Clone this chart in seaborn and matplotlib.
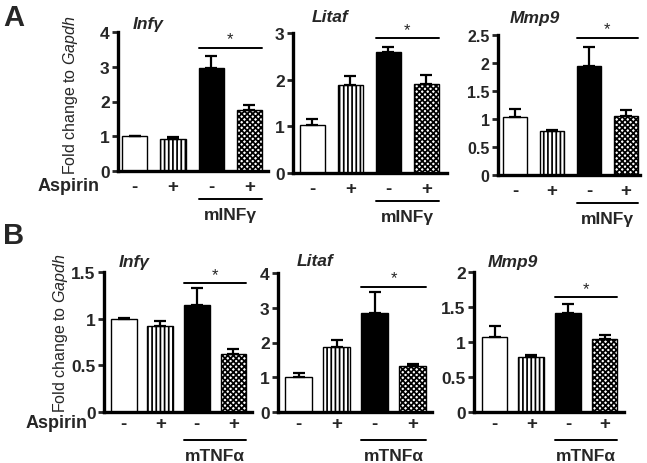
import matplotlib
matplotlib.use("Agg")
import matplotlib.pyplot as plt
import matplotlib.transforms as mtransforms
import pandas as pd
import seaborn as sns

# ---- data ----
conditions = ["ctrl", "aspirin", "stim", "stim_aspirin"]
aspirin_ticks = ["-", "+", "-", "+"]

a_infg_mean = [1.0, 0.92, 2.97, 1.75]
a_infg_err = [0.02, 0.05, 0.35, 0.15]
a_litaf_mean = [1.03, 1.88, 2.6, 1.9]
a_litaf_err = [0.12, 0.2, 0.1, 0.2]
a_mmp9_mean = [1.03, 0.79, 1.95, 1.06]
a_mmp9_err = [0.14, 0.02, 0.34, 0.1]

b_infg_mean = [1.0, 0.92, 1.15, 0.62]
b_infg_err = [0.01, 0.06, 0.18, 0.05]
b_litaf_mean = [1.0, 1.88, 2.85, 1.32]
b_litaf_err = [0.12, 0.2, 0.6, 0.07]
b_mmp9_mean = [1.07, 0.78, 1.42, 1.04]
b_mmp9_err = [0.16, 0.03, 0.13, 0.06]

a_sig = [3.55, 2.89, 2.45]
b_sig = [1.38, 3.6, 1.64]

a_yticks = [[0, 1, 2, 3, 4], [0, 1, 2, 3], [0, 0.5, 1, 1.5, 2, 2.5]]
b_yticks = [[0, 0.5, 1, 1.5], [0, 1, 2, 3, 4], [0, 0.5, 1, 1.5, 2]]

genes = ["Infγ", "Litaf", "Mmp9"]

W, H = 647, 464
fills = ["white", "white", "black", "white"]
hatches = ["", "||||", "", "xxxxxx"]

sns.set_theme(style="white")
plt.rcParams["font.family"] = ["Liberation Sans", "DejaVu Sans"]
plt.rcParams["mathtext.fontset"] = "custom"
plt.rcParams["mathtext.rm"] = "Liberation Sans"
plt.rcParams["mathtext.it"] = "Liberation Sans:italic"
plt.rcParams["hatch.linewidth"] = 1.25


def px_axes(fig, left, top, right, bottom):
    return fig.add_axes([left / W, 1 - bottom / H, (right - left) / W, (bottom - top) / H])


def draw_panel(ax, means, errs, yticks, sig_y, xlim, width, tick_size,
               tick_pad, treat):
    df = pd.DataFrame({"cond": conditions, "val": means})
    sns.barplot(data=df, x="cond", y="val", hue="cond", order=conditions,
                palette=fills, legend=False, width=width, errorbar=None,
                edgecolor="black", linewidth=1.0, ax=ax)
    for patch, h in zip(ax.patches, hatches):
        patch.set_hatch(h)
        patch.set_edgecolor("black")
    ax.errorbar(range(4), means, yerr=[[0] * 4, errs], fmt="none",
                ecolor="black", elinewidth=1.6, capsize=4.5, capthick=1.6,
                zorder=1)

    ax.set_xlim(*xlim)
    ax.set_ylim(0, yticks[-1])
    ax.set_yticks(yticks)
    ax.set_yticklabels([f"{t:g}" for t in yticks], fontsize=tick_size,
                       fontweight="bold")
    ax.set_xticks(range(4))
    ax.set_xticklabels(aspirin_ticks, fontsize=13.5, fontweight="bold")
    ax.tick_params(axis="x", length=0, pad=tick_pad)
    ax.tick_params(axis="y", length=4, width=2, direction="out", pad=2,
                   left=True)
    ax.set_xlabel("")
    ax.set_ylabel("")
    sns.despine(ax=ax)
    for s in ["left", "bottom"]:
        ax.spines[s].set_linewidth(2.4)
        ax.spines[s].set_color("black")
    ax.set_facecolor("white")

    x0, x1 = 2 - width / 2, 3 + width / 2
    # significance bar
    ax.plot([x0, x1], [sig_y, sig_y], color="black", lw=1.4, clip_on=False)
    ax.annotate("*", ((x0 + x1) / 2, sig_y), xytext=(0, 1),
                textcoords="offset points", ha="center", va="bottom",
                fontsize=12)
    # treatment group line under the last two bars
    trans = mtransforms.blended_transform_factory(ax.transData, ax.transAxes)
    ax.plot([x0, x1], [-0.2, -0.2], color="black", lw=1.4, transform=trans,
            clip_on=False)
    ax.text((x0 + x1) / 2, -0.31, treat, transform=trans, ha="center",
            va="center", fontsize=12.5, fontweight="bold")


fig = plt.figure(figsize=(W / 100, H / 100), dpi=100)
fig.patch.set_facecolor("white")

a_boxes = [(118, 33, 268, 172), (293, 34, 447, 174), (498, 36, 640, 176)]
b_boxes = [(104, 273, 252, 413), (278, 274, 432, 413), (474, 273, 624, 413)]
a_xlims = [(-0.44, 3.49), (-0.51, 3.54), (-0.46, 3.38)]
b_xlims = [(-0.54, 3.51), (-0.54, 3.51), (-0.56, 3.53)]
a_title_px = [(148, 24), (330, 18), (535, 19)]
b_title_px = [(134, 262), (315, 262), (513, 262)]

a_means = [a_infg_mean, a_litaf_mean, a_mmp9_mean]
a_errs = [a_infg_err, a_litaf_err, a_mmp9_err]
b_means = [b_infg_mean, b_litaf_mean, b_mmp9_mean]
b_errs = [b_infg_err, b_litaf_err, b_mmp9_err]

for i in range(3):
    ax = px_axes(fig, *a_boxes[i])
    draw_panel(ax, a_means[i], a_errs[i], a_yticks[i], a_sig[i],
               a_xlims[i], 0.66, 11.5 if i == 2 else 12.5, 5, "mINFγ")
    tx, ty = a_title_px[i]
    fig.text(tx / W, 1 - ty / H, genes[i], ha="center", va="center",
             fontsize=12.5, fontweight="bold", style="italic")

for i in range(3):
    ax = px_axes(fig, *b_boxes[i])
    draw_panel(ax, b_means[i], b_errs[i], b_yticks[i], b_sig[i],
               b_xlims[i], 0.7, 12.5, 2, "mTNFα")
    tx, ty = b_title_px[i]
    fig.text(tx / W, 1 - ty / H, genes[i], ha="center", va="center",
             fontsize=12.5, fontweight="bold", style="italic")

ylab = "Fold change to $\\mathit{Gapdh}$"
fig.text(70 / W, 1 - 95 / H, ylab, rotation=90, ha="center", va="center",
         fontsize=11.5)
fig.text(60 / W, 1 - 333 / H, ylab, rotation=90, ha="center", va="center",
         fontsize=11.5)

fig.text(100 / W, 1 - 187 / H, "Aspirin", ha="right", va="center",
         fontsize=13, fontweight="bold")
fig.text(88 / W, 1 - 424 / H, "Aspirin", ha="right", va="center",
         fontsize=13, fontweight="bold")

fig.text(3 / W, 1 - 18 / H, "A", ha="left", va="center", fontsize=21,
         fontweight="bold")
fig.text(3 / W, 1 - 236 / H, "B", ha="left", va="center", fontsize=21,
         fontweight="bold")

fig.savefig("out.png", dpi=100)
